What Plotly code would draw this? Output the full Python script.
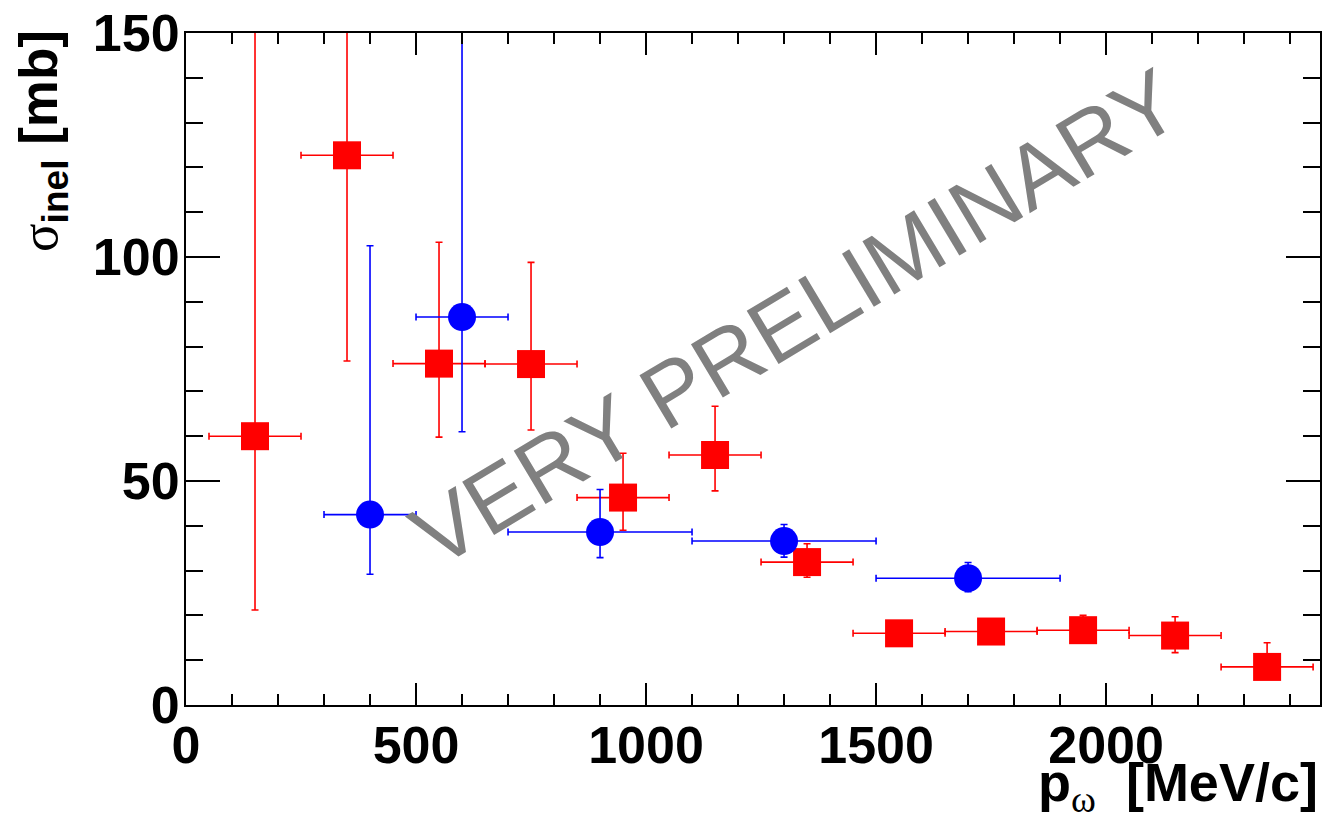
import plotly.graph_objects as go

# ---- data ----
red_x = [150, 350, 550, 750, 950, 1150, 1350, 1550, 1750, 1950, 2150, 2350]
red_y = [60.0, 122.7, 76.2, 76.1, 46.3, 55.8, 31.9, 16.0, 16.4, 16.7, 15.5, 8.5]
red_ex = [100, 100, 100, 100, 100, 100, 100, 100, 100, 100, 100, 100]
red_eyp = [95.0, 45.9, 27.1, 22.7, 9.9, 10.9, 4.1, 2.0, 2.0, 3.3, 4.2, 5.4]
red_eym = [38.8, 45.9, 16.4, 14.7, 7.3, 8.0, 3.4, 2.0, 2.0, 2.5, 3.8, 2.0]

blue_x = [400, 600, 900, 1300, 1700]
blue_y = [42.5, 86.6, 38.6, 36.6, 28.3]
blue_ex = [100, 100, 200, 200, 200]
blue_eyp = [60.0, 70.0, 9.5, 3.7, 3.5]
blue_eym = [13.3, 25.6, 5.7, 3.6, 3.0]

x_ticks = [0, 500, 1000, 1500, 2000]
y_ticks = [0, 50, 100, 150]

RED = "#ff0000"
BLUE = "#0000ff"
FONT = "Liberation Sans"

fig = go.Figure()

fig.add_trace(go.Scatter(
    x=red_x, y=red_y, mode="markers",
    marker=dict(symbol="square", size=28, color=RED, line=dict(width=0)),
    error_x=dict(type="data", array=red_ex, color=RED, thickness=1.6, width=3.5),
    error_y=dict(type="data", array=red_eyp, arrayminus=red_eym, symmetric=False,
                 color=RED, thickness=1.6, width=3.5),
    showlegend=False,
))
fig.add_trace(go.Scatter(
    x=blue_x, y=blue_y, mode="markers",
    marker=dict(symbol="circle", size=28, color=BLUE, line=dict(width=0)),
    error_x=dict(type="data", array=blue_ex, color=BLUE, thickness=1.6, width=3.5),
    error_y=dict(type="data", array=blue_eyp, arrayminus=blue_eym, symmetric=False,
                 color=BLUE, thickness=1.6, width=3.5),
    showlegend=False,
))

# page body has an 8px margin: figure is offset by 8px on screen
OFF = 8
SCR_L, SCR_R, SCR_T, SCR_B = 186, 1320, 33, 705   # plot area in screen pixels
W, H = 1331 - OFF, 831 - OFF
L, T = SCR_L - OFF, SCR_T - OFF
R = W - (SCR_R - OFF)
B = H - (SCR_B - OFF)
PW, PH = SCR_R - SCR_L, SCR_B - SCR_T


def px(xs):
    return (xs - SCR_L) / PW


def py(ys):
    return (SCR_B - ys) / PH


axis_common = dict(
    showgrid=False, zeroline=False, showline=True, linecolor="black", linewidth=2,
    mirror="ticks", ticks="inside", tickcolor="black", tickwidth=2,
    automargin=False, ticklabeloverflow="allow",
    tickfont=dict(family=FONT, size=52, color="black", weight="bold"),
)

fig.update_xaxes(
    range=[0, 2465], tickmode="array", tickvals=x_ticks,
    ticktext=[str(v) for v in x_ticks], ticklen=22, ticklabelstandoff=-6,
    minor=dict(ticks="inside", ticklen=11, dtick=100, tickcolor="black", tickwidth=2,
               showgrid=False),
    **axis_common,
)
fig.update_yaxes(
    range=[0, 150], tickmode="array", tickvals=y_ticks,
    ticktext=[str(v) for v in y_ticks], ticklen=34, ticklabelstandoff=-6,
    minor=dict(ticks="inside", ticklen=17, dtick=10, tickcolor="black", tickwidth=2,
               showgrid=False),
    **axis_common,
)

annotations = [
    # y-axis title
    dict(
        text="<span style='font-family:Liberation Serif;font-weight:normal'>σ</span>"
             "<sub>inel</sub> [mb]",
        x=px(43), y=py(28), xref="paper", yref="paper",
        xanchor="center", yanchor="top", textangle=-90, showarrow=False,
        font=dict(family=FONT, size=53, color="black", weight="bold"),
    ),
    # x-axis title
    dict(
        text="p<sub><span style='font-family:Liberation Serif;font-weight:normal'>ω</span></sub>"
             "\u00a0\u00a0[MeV/c]",
        x=px(1320), y=py(750), xref="paper", yref="paper",
        xanchor="right", yanchor="top", showarrow=False,
        font=dict(family=FONT, size=54, color="black", weight="bold"),
    ),
    # watermark
    dict(
        text="VERY PRELIMINARY",
        x=px(795), y=py(318), xref="paper", yref="paper",
        xanchor="center", yanchor="middle", textangle=-31, showarrow=False,
        font=dict(family=FONT, size=90, color="#808080"),
    ),
]

fig.update_layout(
    width=W, height=H,
    margin=dict(l=L, r=R, t=T, b=B, pad=0, autoexpand=False),
    paper_bgcolor="white", plot_bgcolor="white",
    annotations=annotations,
)

fig.write_html("out.html")
